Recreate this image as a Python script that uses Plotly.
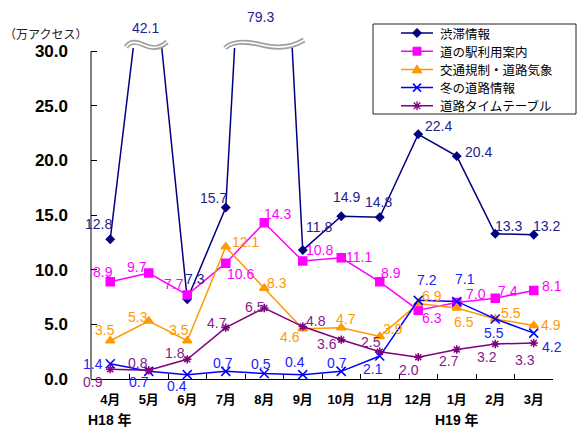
import plotly.graph_objects as go

# ---- data (万アクセス) ----
months = ["4月", "5月", "6月", "7月", "8月", "9月", "10月", "11月", "12月", "1月", "2月", "3月"]
series_names = ["渋滞情報", "道の駅利用案内", "交通規制・道路気象", "冬の道路情報", "道路タイムテーブル"]
jutai = [12.8, 42.1, 7.3, 15.7, 79.3, 11.8, 14.9, 14.8, 22.4, 20.4, 13.3, 13.2]
michinoeki = [8.9, 9.7, 7.7, 10.6, 14.3, 10.8, 11.1, 8.9, 6.3, 7.0, 7.4, 8.1]
kisei = [3.5, 5.3, 3.5, 12.1, 8.3, 4.6, 4.7, 3.9, 6.9, 6.5, 5.5, 4.9]
fuyu = [1.4, 0.7, 0.4, 0.7, 0.5, 0.4, 0.7, 2.1, 7.2, 7.1, 5.5, 4.2]
timetable = [0.9, 0.8, 1.8, 4.7, 6.5, 4.8, 3.6, 2.5, 2.0, 2.7, 3.2, 3.3]
y_ticks = [0, 5, 10, 15, 20, 25, 30]
year_labels = ["H18 年", "H19 年"]
year_months = ["4月", "1月"]
unit_label = "（万アクセス）"

series_values = [jutai, michinoeki, kisei, fuyu, timetable]

# ---- styles ----
line_colors = ["#000080", "#FF00FF", "#FF9900", "#0000FF", "#800080"]
label_colors = ["#23238C", "#FF00FF", "#FF9900", "#2020FF", "#85208A"]
symbols = ["diamond", "square", "triangle-up", "x-thin", "asterisk-open"]
marker_sizes = [6, 8, 8, 9, 7]

# pixel offsets (dx right, dy down) of each value label from its point
label_offsets = [
    [(-12, -15), (-3, -20), (8, -20), (-12, -9), (-4, -31), (16, -23),
     (5, -19), (-1, -15), (20, -8), (22, -4), (13, -8), (13, -9)],
    [(-7, -10), (-12, -6), (-13, -11), (15, 11), (13, -9), (17, -11),
     (18, -1), (11, -9), (14, 8), (19, -9), (13, -7), (18, -5)],
    [(-5, -11), (-11, -4), (-8, -11), (20, -5), (13, -5), (-13, 8),
     (5, -9), (13, -7), (14, -8), (7, 14), (16, -6), (17, 0)],
    [(-17, 0), (-10, 11), (-10, 11), (-3, -8), (-3, -10), (-8, -13),
     (-4, -8), (-7, 13), (9, -20), (8, -22), (-1, 14), (18, 14)],
    [(-17, 13), (-11, -7), (-12, -6), (-9, -5), (-9, -1), (13, -6),
     (-14, 4), (-9, -10), (-9, 13), (-8, 11), (-8, 13), (-9, 17)],
]

W, H = 577, 428
ML, MR, MT, MB = 91, 24, 48, 49
Y_MAX = 30.3
PW, PH = W - ML - MR, H - MT - MB

NUM_FONT = "Liberation Sans, Arial, sans-serif"
MIX_FONT = "Liberation Sans, Noto Sans CJK JP, sans-serif"
JP_FONT = "Noto Sans CJK JP, sans-serif"


def pp(x, y):
    """pixel position -> paper coordinates"""
    return (x - ML) / PW, (H - MB - y) / PH


def path(points, close=False):
    parts = []
    for i, (x, y) in enumerate(points):
        px, py = pp(x, y)
        parts.append(("M" if i == 0 else "L") + f"{px:.5f},{py:.5f}")
    return " ".join(parts) + (" Z" if close else "")


def curve(cmds):
    out = []
    for cmd, pts in cmds:
        coords = []
        for x, y in pts:
            px, py = pp(x, y)
            coords.append(f"{px:.5f},{py:.5f}")
        out.append(cmd + " ".join(coords))
    return " ".join(out)


fig = go.Figure()
for name, vals, col, sym, ms in zip(series_names, series_values, line_colors, symbols, marker_sizes):
    fig.add_trace(go.Scatter(
        x=months, y=vals, name=name, mode="lines+markers",
        line=dict(color=col, width=1.5),
        marker=dict(symbol=sym, size=ms, color=col, line=dict(color=col, width=1.5)),
        showlegend=False, cliponaxis=True,
    ))

annotations = []
# value labels
for vals, col, offs in zip(series_values, label_colors, label_offsets):
    for m, v, (dx, dy) in zip(months, vals, offs):
        ann = dict(x=m, xref="x", text=f"{v:.1f}", showarrow=False,
                   xanchor="center", yanchor="middle", xshift=dx, yshift=-dy,
                   font=dict(family=NUM_FONT, size=14, color=col))
        if v > Y_MAX:
            ann.update(y=1, yref="paper")
        else:
            ann.update(y=v, yref="y")
        annotations.append(ann)

# year captions under the month axis
for txt, m in zip(year_labels, year_months):
    annotations.append(dict(x=m, xref="x", y=pp(0, 420)[1], yref="paper", text=txt,
                            showarrow=False, xanchor="center", yanchor="middle",
                            font=dict(family=MIX_FONT, size=14, color="black", weight="bold")))

# unit caption
ux, uy = pp(45, 34)
annotations.append(dict(x=ux, y=uy, xref="paper", yref="paper", text=unit_label,
                        showarrow=False, xanchor="center", yanchor="middle",
                        font=dict(family=JP_FONT, size=12, color="#222222")))

shapes = []
# value axis line up to 30
shapes.append(dict(type="line", xref="paper", yref="y", x0=0, x1=0, y0=0, y1=30,
                   line=dict(color="black", width=1)))

# axis break marks on the clipped peaks
breaks = [
    [("M", [(126, 47)]), ("C", [(130, 41), (136, 41), (144, 45)]), ("S", [(159, 49), (167, 42)])],
    [("M", [(225, 48)]), ("C", [(232, 41), (246, 41), (262, 45)]), ("S", [(291, 48), (304, 40)])],
]
for b in breaks:
    d = curve(b)
    shapes.append(dict(type="path", xref="paper", yref="paper", path=d, layer="above",
                       line=dict(color="#A0A0A0", width=5)))
    shapes.append(dict(type="path", xref="paper", yref="paper", path=d, layer="above",
                       line=dict(color="white", width=1.6)))

# legend box
bx0, by0 = pp(373, 114)
bx1, by1 = pp(576, 24)
shapes.append(dict(type="rect", xref="paper", yref="paper", x0=bx0, y0=by0, x1=bx1, y1=by1,
                   line=dict(color="#222222", width=1), fillcolor="white", layer="above"))

for i, (name, col) in enumerate(zip(series_names, line_colors)):
    cy = 33 + i * 18.2
    cx = 417
    shapes.append(dict(type="path", xref="paper", yref="paper", layer="above",
                       path=path([(401, cy), (433, cy)]), line=dict(color=col, width=1.5)))
    if i == 0:
        d = path([(cx, cy - 4.5), (cx + 4.5, cy), (cx, cy + 4.5), (cx - 4.5, cy)], close=True)
        shapes.append(dict(type="path", xref="paper", yref="paper", layer="above", path=d,
                           fillcolor=col, line=dict(color=col, width=1)))
    elif i == 1:
        d = path([(cx - 4, cy - 4), (cx + 4, cy - 4), (cx + 4, cy + 4), (cx - 4, cy + 4)], close=True)
        shapes.append(dict(type="path", xref="paper", yref="paper", layer="above", path=d,
                           fillcolor=col, line=dict(color=col, width=1)))
    elif i == 2:
        d = path([(cx - 5, cy + 3.5), (cx + 5, cy + 3.5), (cx, cy - 4.5)], close=True)
        shapes.append(dict(type="path", xref="paper", yref="paper", layer="above", path=d,
                           fillcolor=col, line=dict(color=col, width=1)))
    elif i == 3:
        d = path([(cx - 4, cy - 4), (cx + 4, cy + 4)]) + " " + path([(cx - 4, cy + 4), (cx + 4, cy - 4)])
        shapes.append(dict(type="path", xref="paper", yref="paper", layer="above", path=d,
                           line=dict(color=col, width=1.5)))
    else:
        d = " ".join([path([(cx, cy - 4.5), (cx, cy + 4.5)]),
                      path([(cx - 4.5, cy), (cx + 4.5, cy)]),
                      path([(cx - 3.3, cy - 3.3), (cx + 3.3, cy + 3.3)]),
                      path([(cx - 3.3, cy + 3.3), (cx + 3.3, cy - 3.3)])])
        shapes.append(dict(type="path", xref="paper", yref="paper", layer="above", path=d,
                           line=dict(color=col, width=1.3)))
    tx, ty = pp(438, cy)
    annotations.append(dict(x=tx, y=ty, xref="paper", yref="paper", text=name, showarrow=False,
                            xanchor="left", yanchor="middle",
                            font=dict(family=JP_FONT, size=12.5, color="black")))

fig.update_layout(
    width=W, height=H,
    margin=dict(l=ML, r=MR, t=MT, b=MB, pad=0),
    paper_bgcolor="white", plot_bgcolor="white",
    showlegend=False,
    xaxis=dict(
        type="category", categoryorder="array", categoryarray=months,
        range=[-0.5, len(months) - 0.5],
        showline=True, linecolor="black", linewidth=1,
        ticks="inside", tickson="boundaries", ticklen=5, tickcolor="black",
        showgrid=False, zeroline=False,
        tickfont=dict(family=MIX_FONT, size=13, color="black", weight="bold"),
        ticklabelstandoff=8,
    ),
    yaxis=dict(
        range=[0, Y_MAX], tickvals=y_ticks, ticktext=[f"{t:.1f}" for t in y_ticks],
        showline=False, showgrid=False, zeroline=False,
        ticks="inside", ticklen=6, tickcolor="black",
        tickfont=dict(family=NUM_FONT, size=17, color="black", weight="bold"),
        ticklabelstandoff=22,
    ),
    annotations=annotations,
    shapes=shapes,
)

fig.write_html("out.html")
